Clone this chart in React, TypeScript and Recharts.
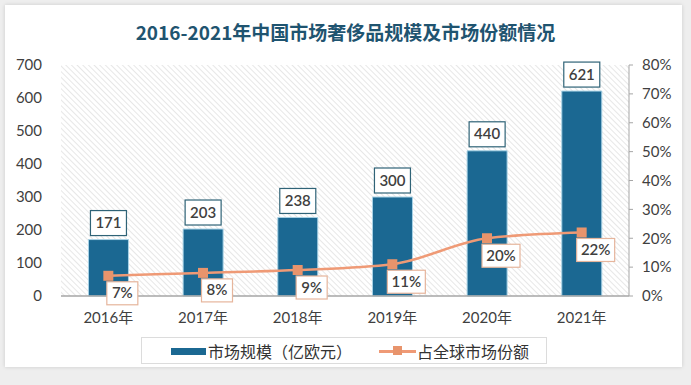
import React from "react";
import {
  ComposedChart,
  Bar,
  Line,
  XAxis,
  YAxis,
  CartesianGrid,
  LabelList,
} from "recharts";

const years = ["2016年", "2017年", "2018年", "2019年", "2020年", "2021年"];
const marketSize = [171, 203, 238, 300, 440, 621];
const globalShare = [7, 8, 9, 11, 20, 22];
const leftTicks = [0, 100, 200, 300, 400, 500, 600, 700];
const rightTicks = [0, 10, 20, 30, 40, 50, 60, 70, 80];

const data = years.map((year, i) => ({
  year,
  size: marketSize[i],
  share: globalShare[i],
}));

const BAR = "#1b6892";
const LINE = "#ef9a76";
const TEXT = "#3f3f3f";
const FONT = "Lato, 'Noto Sans CJK SC', sans-serif";

// value box sitting above each bar
const SizeLabel = (props: any) => {
  const { x, y, width, value } = props;
  const w = 36;
  const h = 25;
  const cx = x + width / 2;
  return (
    <g>
      <rect x={cx - w / 2} y={y - h - 4} width={w} height={h} fill="#fff" stroke="#2f6377" strokeWidth={1.2} />
      <text x={cx} y={y - 4 - h / 2 + 5} textAnchor="middle" fontSize={15} fontWeight={600} fill={TEXT} fontFamily={FONT}>
        {value}
      </text>
    </g>
  );
};

// percent box below and right of each point
const ShareLabel = (props: any) => {
  const { x, y, value } = props;
  const text = `${value}%`;
  const w = text.length > 2 ? 38 : 31;
  const h = 23;
  const cx = x + 14;
  return (
    <g>
      <rect x={cx - w / 2} y={y + 6} width={w} height={h} fill="#fff" stroke="#e6b59c" strokeWidth={1.2} />
      <text x={cx} y={y + 6 + h / 2 + 5} textAnchor="middle" fontSize={15} fontWeight={600} fill={TEXT} fontFamily={FONT}>
        {text}
      </text>
    </g>
  );
};

const SquareDot = (props: any) => {
  const { cx, cy } = props;
  return <rect x={cx - 5} y={cy - 5} width={10} height={10} fill="#e8946c" />;
};

export default function App() {
  return (
    <div style={{ position: "absolute", left: 0, top: 0, width: 691, height: 385, background: "#eeeeee", overflow: "hidden" }}>
      <div
        style={{
          position: "absolute",
          left: 5,
          top: 5,
          width: 677,
          height: 362,
          background: "#fff",
          boxShadow: "0 0 4px rgba(0,0,0,0.15)",
        }}
      />
      <div
        style={{
          position: "absolute",
          left: 0,
          top: 18,
          width: 691,
          textAlign: "center",
          fontFamily: "'Noto Sans CJK SC', sans-serif",
          fontWeight: 700,
          fontSize: 19,
          color: "#1f5470",
        }}
      >
        2016-2021年中国市场奢侈品规模及市场份额情况
      </div>
      <div style={{ position: "absolute", left: 0, top: 0 }}>
        <ComposedChart
          width={691}
          height={385}
          data={data}
          margin={{ top: 65, right: 7, bottom: 59, left: 11 }}
          barCategoryGap="29%"
        >
          <defs>
            <pattern id="hatch" width="4" height="4" patternUnits="userSpaceOnUse" patternTransform="rotate(-45)">
              <line x1="0" y1="0" x2="0" y2="4" stroke="#d6d6d6" strokeWidth={1.2} />
            </pattern>
          </defs>
          <CartesianGrid horizontal={false} vertical={false} fill="url(#hatch)" />
          <XAxis
            dataKey="year"
            tickLine={false}
            axisLine={{ stroke: "#a6a6a6", strokeWidth: 1.5 }}
            tick={{ fontSize: 15, fill: TEXT, fontFamily: FONT }}
            tickMargin={10}
            height={30}
          />
          <YAxis
            yAxisId="left"
            domain={[0, 700]}
            ticks={leftTicks}
            axisLine={false}
            tickLine={false}
            tickSize={0}
            tickMargin={19}
            width={50}
            tick={{ fontSize: 15, fill: TEXT, fontFamily: FONT }}
            interval={0}
          />
          <YAxis
            yAxisId="right"
            orientation="right"
            domain={[0, 80]}
            ticks={rightTicks}
            axisLine={{ stroke: "#a6a6a6" }}
            tickLine={{ stroke: "#a6a6a6" }}
            tickSize={4}
            tickMargin={9}
            width={55}
            tickFormatter={(v: number) => `${v}%`}
            tick={{ fontSize: 15, fill: TEXT, fontFamily: FONT, textAnchor: "start" }}
            interval={0}
          />
          <Bar yAxisId="left" dataKey="size" fill={BAR} stroke="#a9d3e6" strokeWidth={1} isAnimationActive={false}>
            <LabelList dataKey="size" content={<SizeLabel />} />
          </Bar>
          <Line
            yAxisId="right"
            type="monotone"
            dataKey="share"
            stroke={LINE}
            strokeWidth={2.5}
            dot={<SquareDot />}
            activeDot={false}
            isAnimationActive={false}
          >
            <LabelList dataKey="share" content={<ShareLabel />} />
          </Line>
        </ComposedChart>
      </div>
      <div
        style={{
          position: "absolute",
          left: 141,
          top: 337,
          width: 406,
          height: 27,
          border: "1px solid #dcdcdc",
          boxSizing: "border-box",
          fontFamily: "'Noto Sans CJK SC', sans-serif",
          fontSize: 16,
          color: "#333",
        }}
      >
        <div style={{ position: "absolute", left: 29, top: 10, width: 35, height: 7, background: BAR }} />
        <div style={{ position: "absolute", left: 66, top: 1, lineHeight: "24px", whiteSpace: "nowrap" }}>市场规模（亿欧元）</div>
        <div style={{ position: "absolute", left: 237, top: 12, width: 37, height: 2.5, background: LINE }} />
        <div style={{ position: "absolute", left: 251, top: 8, width: 9, height: 9, background: "#e8946c" }} />
        <div style={{ position: "absolute", left: 275, top: 1, lineHeight: "24px", whiteSpace: "nowrap" }}>占全球市场份额</div>
      </div>
    </div>
  );
}
